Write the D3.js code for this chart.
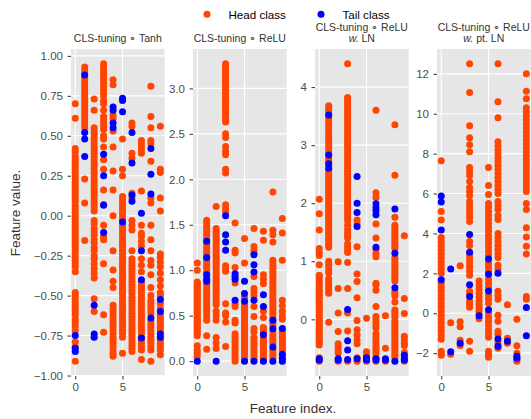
<!DOCTYPE html>
<html><head><meta charset="utf-8">
<script src="https://cdn.jsdelivr.net/npm/d3@7"></script>
<style>
html,body{margin:0;padding:0;background:#fff;}
svg{display:block;font-family:"Liberation Sans",Arial,Helvetica,sans-serif;}
</style></head>
<body>
<svg id="chart" width="531" height="419"></svg>
<script>
// ---------- data ----------
const featureIdx = [0,1,2,3,4,5,6,7,8,9];
const xTickVals = [0,5];
const classNames = ["Head class","Tail class"];
const panelTitles = [
  ["CLS-tuning ∘ Tanh"],
  ["CLS-tuning ∘ ReLU"],
  ["CLS-tuning ∘ ReLU", "w.| LN"],
  ["CLS-tuning ∘ ReLU", "w.| pt. LN"]
];
const yTicksTanh = [-1,-0.75,-0.5,-0.25,0,0.25,0.5,0.75,1];
const yTicksRelu = [0,0.5,1,1.5,2,2.5,3];
const yTicksReluLN = [0,1,2,3,4];
const yTicksReluPtLN = [-2,0,2,4,6,8,10,12];

// Panel 1: CLS-tuning ∘ Tanh (values per feature index)
const tanhHead = [
  [0.70,0.61,0.42,0.40,0.37,0.35,0.33,0.31,0.29,0.27,0.25,0.23,0.21,0.19,0.17,0.15,0.13,0.11,0.09,0.06,0.04,0.02,0.0,-0.02,-0.04,-0.06,-0.08,-0.10,-0.12,-0.14,-0.16,-0.18,-0.20,-0.22,-0.24,-0.26,-0.28,-0.30,-0.32,-0.35,-0.48,-0.50,-0.52,-0.54,-0.56,-0.58,-0.60,-0.62,-0.65,-0.67,-0.69,-0.72,-0.79,-0.82,-0.91],
  [0.93,0.91,0.89,0.87,0.85,0.83,0.81,0.79,0.77,0.75,0.73,0.71,0.69,0.67,0.65,0.63,0.61,0.59,0.57,0.55,0.23,0.08,-0.155],
  [0.73,0.66,0.55,0.53,0.51,0.49,0.47,0.45,0.43,0.41,0.39,0.37,0.35,0.33,0.31,0.29,0.27,0.25,0.23,0.21,0.19,0.17,0.15,0.13,0.11,0.09,0.07,0.05,0.03,-0.03,-0.05,-0.08,-0.10,-0.12,-0.15,-0.17,-0.20,-0.22,-0.25,-0.27,-0.30,-0.33,-0.36,-0.39,-0.52,-0.60],
  [0.95,0.93,0.91,0.89,0.87,0.85,0.83,0.81,0.79,0.77,0.75,0.72,0.70,0.66,0.62,0.60,0.58,0.56,0.54,0.50,0.48,0.43,0.35,0.29,0.16,0.07,-0.06,-0.13,-0.15,-0.30,-0.62,-0.73],
  [0.85,0.82,0.63,0.61,0.53,0.43,0.28,0.16,0.0,-0.22,-0.34,-0.41,-0.45,-0.56,-0.58,-0.60,-0.62,-0.64,-0.66,-0.68,-0.70,-0.72,-0.74,-0.76,-0.78,-0.80,-0.82,-0.84,-0.86,-0.88],
  [0.48,0.29,0.25,0.12,0.10,0.08,0.06,0.04,0.02,0.0,-0.02,-0.06,-0.08,-0.10,-0.12,-0.14,-0.16,-0.18,-0.20,-0.22,-0.24,-0.26,-0.28,-0.30,-0.32,-0.34,-0.36,-0.38,-0.40,-0.42,-0.44,-0.46,-0.48,-0.50,-0.52,-0.54,-0.56,-0.58,-0.60,-0.62,-0.64,-0.66,-0.68,-0.70,-0.72,-0.74,-0.76,-0.86],
  [0.58,0.56,0.39,0.36,0.14,0.11,-0.03,-0.06,-0.09,-0.22,-0.27,-0.29,-0.31,-0.33,-0.35,-0.37,-0.39,-0.41,-0.43,-0.45,-0.47,-0.49,-0.51,-0.53,-0.55,-0.57,-0.59,-0.61,-0.63,-0.65,-0.67,-0.69,-0.71,-0.73,-0.75,-0.77,-0.79,-0.81,-0.83,-0.85],
  [0.47,0.45,0.43,0.41,0.39,0.155,-0.06,-0.11,-0.13,-0.16,-0.19,-0.27,-0.31,-0.35,-0.42,-0.44,-0.46,-0.48,-0.50,-0.52,-0.54,-0.56,-0.58,-0.60,-0.62,-0.64,-0.66,-0.68,-0.70,-0.72,-0.74,-0.76,-0.78,-0.80,-0.82,-0.84,-0.90],
  [0.81,0.62,0.55,0.47,0.45,0.34,0.11,0.08,-0.06,-0.15,-0.22,-0.28,-0.31,-0.37,-0.45,-0.50,-0.53,-0.55,-0.57,-0.59,-0.61,-0.66,-0.68,-0.70,-0.72,-0.74,-0.76,-0.78,-0.80,-0.82,-0.84,-0.91],
  [0.56,0.29,0.27,0.11,0.03,-0.24,-0.26,-0.29,-0.32,-0.36,-0.40,-0.44,-0.48,-0.50,-0.55,-0.58,-0.62,-0.64,-0.66,-0.68,-0.70,-0.72,-0.78,-0.80,-0.82,-0.84,-0.87]
];
const tanhTail = [
  [-0.75,-0.83,-0.85],
  [0.88,0.52,0.48,0.37],
  [-0.56,-0.74,-0.76],
  [0.385,0.25,0.065,-0.105],
  [0.68,0.66,0.58,0.55],
  [0.735,0.72,0.65,-0.04],
  [0.52,0.33,0.13,0.09],
  [0.015,-0.22,-0.40,-0.765],
  [0.42,0.26,0.135,-0.64],
  [-0.525,-0.60,-0.74,-0.76]
];

// Panel 2: CLS-tuning ∘ ReLU
const reluHead = [
  [1.08,1.0,0.87,0.85,0.83,0.81,0.79,0.77,0.75,0.73,0.71,0.69,0.67,0.65,0.63,0.61,0.59,0.57,0.55,0.53,0.51,0.49,0.47,0.45,0.43,0.41,0.39,0.37,0.35,0.33,0.31,0.28,0.17,0.12,0.09,0.05],
  [1.55,1.52,1.49,1.46,1.43,1.40,1.37,1.34,1.30,1.27,1.24,1.21,1.18,1.15,1.12,1.09,1.06,1.03,1.00,0.97,0.93,0.86,0.83,0.80,0.77,0.74,0.71,0.68,0.65,0.62,0.59,0.56,0.52,0.49,0.45,0.28,0.13],
  [1.70,1.46,1.43,1.40,1.37,1.34,1.31,1.28,1.25,1.22,1.19,1.16,1.13,1.10,1.07,1.04,1.01,0.98,0.95,0.92,0.89,0.86,0.83,0.80,0.77,0.74,0.71,0.68,0.65,0.62,0.55,0.50,0.45,0.26,0.20,0.14],
  [3.27,3.25,3.23,3.21,3.19,3.17,3.15,3.13,3.11,3.09,3.07,3.05,3.03,3.01,2.99,2.97,2.95,2.93,2.91,2.89,2.87,2.85,2.83,2.81,2.79,2.77,2.75,2.73,2.71,2.68,2.65,2.63,2.50,2.46,2.36,2.31,2.27,2.11,2.07,1.72,1.68,1.64,1.05,1.02,0.99,0.63,0.53,0.50,0.43,0.16],
  [1.52,1.22,1.19,1.03,0.86,0.63,0.60,0.45,0.42,0.30,0.27,0.24,0.21,0.18,0.15,0.12,0.09,0.06,0.03,0.0],
  [1.35,1.08,0.70,0.62,0.59,0.56,0.53,0.50,0.47,0.44,0.41,0.38,0.35,0.32,0.29,0.26,0.23,0.20,0.17,0.14,0.11,0.08,0.05,0.02],
  [1.46,1.26,1.22,1.19,0.93,0.80,0.76,0.72,0.60,0.49,0.36,0.32,0.26,0.23,0.20,0.17,0.14,0.11,0.08,0.05,0.02],
  [1.43,1.33,0.95,0.90,0.85,0.55,0.48,0.37,0.34,0.31,0.25,0.22,0.19,0.16,0.13,0.10,0.07,0.04,0.01],
  [1.86,1.44,1.39,1.31,1.11,1.08,1.05,1.02,0.99,0.96,0.93,0.90,0.87,0.84,0.81,0.78,0.75,0.72,0.69,0.66,0.63,0.60,0.57,0.54,0.51,0.48,0.42,0.39,0.32,0.28,0.25,0.22,0.19,0.13,0.10,0.07,0.04],
  [1.57,1.41,1.11,0.67,0.61,0.55,0.50,0.46,0.33,0.30,0.27,0.24,0.21,0.18,0.15,0.12,0.05]
];
const reluTail = [
  [0.0],
  [1.32,1.14,0.95,0.90,0.88],
  [0.0],
  [1.60,1.39,1.31,1.22],
  [0.96,0.93,0.90,0.67],
  [0.88,0.745,0.66,0.0],
  [1.17,1.06,0.98,0.67,0.0],
  [0.73,0.60,0.29,0.0],
  [0.45,0.355,0.155,0.0],
  [0.36,0.077,0.03,0.0]
];

// Panel 3: CLS-tuning ∘ ReLU w. LN
const reluLNHead = [
  [2.07,1.82,1.54,1.22,1.15,1.10,0.94,0.76,0.72,0.67,0.62,0.57,0.52,0.48,0.44,0.40,0.36,0.32,0.28,0.24,0.20,0.16,0.12,0.08,0.04,0.0,-0.04,-0.08,-0.12,-0.16,-0.20,-0.24,-0.28,-0.32,-0.36,-0.40,-0.44,-0.66,-0.72],
  [3.68,3.64,3.60,3.56,3.50,3.46,3.40,3.35,3.30,3.25,3.20,3.15,3.10,3.05,3.00,2.95,2.90,2.85,2.78,2.74,2.70,2.64,2.56,2.52,2.48,2.44,2.40,2.36,2.32,2.28,2.24,2.20,2.16,2.12,2.08,2.04,2.00,1.96,1.92,1.88,1.84,1.80,1.76,1.72,1.68,1.64,1.60,1.56,1.52,1.48,1.44,1.40,1.36,1.32,1.28,1.24,1.0,0.95,0.90,0.85,0.80,0.70,0.65,0.60,0.55,0.50,0.45,-0.05],
  [0.99,0.53,0.11,-0.21,-0.42,-0.48,-0.54,-0.58,-0.72],
  [4.40,3.82,3.78,3.74,3.70,3.65,3.60,3.55,3.50,3.45,3.40,3.35,3.30,3.25,3.20,3.15,3.10,3.05,3.00,2.95,2.90,2.85,2.80,2.75,2.70,2.65,2.60,2.55,2.50,2.45,2.40,2.35,2.30,2.25,2.20,2.15,2.10,2.05,2.00,1.95,1.90,1.85,1.80,1.75,1.70,1.62,1.55,1.50,1.45,1.40,1.30,1.25,1.20,1.15,0.98,0.53,0.11,-0.20,-0.72],
  [1.71,1.64,1.25,0.78,0.65,0.37,-0.02,-0.18,-0.27,-0.35,-0.42,-0.66,-0.72],
  [0.02,-0.56,-0.62,-0.72],
  [3.60,2.18,2.10,1.64,1.40,1.20,1.13,1.08,0.62,0.59,0.50,0.22,0.05,0.0,-0.05,-0.10,-0.15,-0.25,-0.30,-0.35,-0.40,-0.45,-0.50,-0.55,-0.60,-0.66,-0.72],
  [0.06,-0.50,-0.72],
  [3.35,2.48,1.76,1.62,1.58,1.54,1.50,1.46,1.42,1.38,1.34,1.30,1.26,1.22,1.06,1.02,0.98,0.94,0.90,0.86,0.82,0.78,0.74,0.70,0.66,0.48,0.44,0.40,0.30,0.16,0.12,0.08,0.04,-0.02,-0.06,-0.10,-0.14,-0.18,-0.22,-0.26,-0.30,-0.34,-0.38,-0.42,-0.46,-0.50,-0.54,-0.58,-0.62,-0.66],
  [1.44,0.36,0.10,-0.29,-0.35,-0.41,-0.45,-0.57,-0.62,-0.72]
];
const reluLNTail = [
  [-0.68,-0.70],
  [3.52,2.83,2.68,2.60],
  [-0.68,-0.70],
  [0.17,-0.37,-0.53,-0.69],
  [2.46,2.0,1.84,1.60,-0.68],
  [-0.66,-0.68,-0.70],
  [1.99,1.92,1.87,1.80,1.24,-0.68,-0.70],
  [-0.68,-0.70],
  [1.90,1.14,0.545,-0.72],
  [-0.62,-0.68,-0.70]
];

// Panel 4: CLS-tuning ∘ ReLU w. pt. LN
const reluPtLNHead = [
  [7.65,5.1,4.67,3.8,3.6,3.4,3.2,3.0,2.8,2.6,2.4,2.2,2.0,1.5,1.3,1.1,0.9,0.7,0.5,0.3,0.1,-0.1,-0.3,-0.5,-0.7,-0.9,-1.1,-1.3,-1.9,-2.0,-2.1],
  [-0.47,-2.05],
  [2.38,-0.43,-0.68,-1.35,-1.62],
  [12.5,11.07,9.4,8.8,8.45,8.1,7.3,7.1,6.9,6.6,6.3,6.1,5.9,5.6,5.4,5.2,5.0,4.8,4.6,3.6,3.4,2.9,2.7,2.5,2.3,2.1,1.9,1.1,0.98,0.6,0.45,0.3,-1.4,-1.9],
  [1.62,1.40,1.20,1.0,0.8,0.6,0.45,0.3,0.15,0.0,-0.28],
  [7.3,6.4,5.95,5.5,5.3,5.1,4.9,4.7,4.5,4.3,4.1,3.9,3.7,3.5,3.3,3.1,2.9,2.5,2.3,2.1,1.7,1.5,1.3,0.9,0.7,0.5,0.0,-0.2,-0.4,-0.6,-0.8,-1.0,-1.2,-1.9,-2.05,-2.2],
  [12.5,10.6,9.8,8.6,8.4,8.2,8.0,7.8,7.6,7.4,7.2,7.0,6.8,6.6,6.4,6.2,6.0,5.6,5.4,5.2,4.9,4.7,4.0,3.8,3.6,3.4,3.2,3.0,2.8,2.4,2.2,1.1,0.9,0.7,-0.1,-0.4,-0.9,-1.05,-1.5,-1.75],
  [0.42,-1.25,-1.5],
  [-0.3,-1.63,-2.0,-2.3,-2.4],
  [12.0,11.13,10.75,10.3,10.1,9.9,9.7,9.5,9.3,9.1,8.9,8.7,8.5,8.3,8.1,7.9,7.7,7.5,7.3,7.1,6.9,6.7,6.5,6.3,6.1,5.5,5.2,4.28,3.82,3.36,2.97,0.84,0.7]
];
const reluPtLNTail = [
  [5.88,5.58,4.17,1.68],
  [2.22,-1.93],
  [-1.5],
  [3.95,3.06,1.43,0.84],
  [-0.13],
  [2.72,1.95,1.12,0.17],
  [2.0,-1.29,-1.65],
  [-1.4],
  [-2.15,-2.25],
  [0.29,-1.13]
];

const panelHead = [tanhHead, reluHead, reluLNHead, reluPtLNHead];
const panelTail = [tanhTail, reluTail, reluLNTail, reluPtLNTail];
const panelYTicks = [yTicksTanh, yTicksRelu, yTicksReluLN, yTicksReluPtLN];
const panelYFormat = [".2f", ".1f", "d", "d"];

// ---------- layout / style ----------
const left0 = 71, step = 122, pw = 93.6, pTop = 49, pBottom = 376;
const headColor = "#FF4500", tailColor = "#0000FF";
const bg = "#E6E6E6";
const r = 3.5;

const svg = d3.select("#chart");

function flatten(arr){
  const out = [];
  arr.forEach((vals, i) => vals.forEach(v => out.push({x: featureIdx[i], y: v})));
  return out;
}

panelHead.forEach((headArr, p) => {
  const head = flatten(headArr);
  const tail = flatten(panelTail[p]);
  const all = head.concat(tail);
  const ext = d3.extent(all, d => d.y);
  const pad = (ext[1]-ext[0])*0.05;
  const xl = left0 + p*step;
  const x = d3.scaleLinear().domain([-0.45, 9.45]).range([xl, xl+pw]);
  const y = d3.scaleLinear().domain([ext[0]-pad, ext[1]+pad]).range([pBottom, pTop]);

  const g = svg.append("g");
  g.append("rect").attr("x", xl).attr("y", pTop).attr("width", pw).attr("height", pBottom-pTop).attr("fill", bg);
  g.selectAll(".hg").data(panelYTicks[p]).join("line")
    .attr("x1", xl).attr("x2", xl+pw).attr("y1", d=>y(d)).attr("y2", d=>y(d))
    .attr("stroke", "#fff").attr("stroke-width", 1.1);
  g.selectAll(".vg").data(xTickVals).join("line")
    .attr("y1", pTop).attr("y2", pBottom).attr("x1", d=>x(d)).attr("x2", d=>x(d))
    .attr("stroke", "#fff").attr("stroke-width", 1.1);

  const clipId = "clip"+p;
  svg.append("clipPath").attr("id", clipId).append("rect")
    .attr("x", xl).attr("y", pTop).attr("width", pw).attr("height", pBottom-pTop);
  const pts = g.append("g").attr("clip-path", `url(#${clipId})`);
  pts.selectAll(".h").data(head).join("circle")
    .attr("cx", d=>x(d.x)).attr("cy", d=>y(d.y)).attr("r", r).attr("fill", headColor);
  pts.selectAll(".t").data(tail).join("circle")
    .attr("cx", d=>x(d.x)).attr("cy", d=>y(d.y)).attr("r", r).attr("fill", tailColor);

  const ya = g.append("g").attr("transform", `translate(${xl},0)`)
    .call(d3.axisLeft(y).tickValues(panelYTicks[p]).tickFormat(d3.format(panelYFormat[p])).tickSize(3.5).tickPadding(4.5));
  const xa = g.append("g").attr("transform", `translate(0,${pBottom})`)
    .call(d3.axisBottom(x).tickValues(xTickVals).tickFormat(d3.format("d")).tickSize(3.5).tickPadding(3.5));
  [ya, xa].forEach(a => {
    a.select(".domain").remove();
    a.selectAll(".tick line").attr("stroke", "#333").attr("stroke-width", 1);
    a.selectAll(".tick text").attr("fill", "#4D4D4D").attr("font-size", "11.5px")
      .attr("font-family", '"Liberation Sans",Arial,sans-serif');
  });

  const lines = panelTitles[p];
  const cx = xl + pw/2;
  lines.forEach((ln, i) => {
    const baseY = 42 - (lines.length-1-i)*11.5;
    const t = g.append("text").attr("x", cx).attr("y", baseY).attr("text-anchor", "middle")
      .attr("font-size", "10.5px").attr("fill", "#333");
    if (ln.includes("|")) {
      const [it, rest] = ln.split("|");
      t.append("tspan").attr("font-style", "italic").text(it);
      t.append("tspan").text(rest);
    } else {
      t.text(ln);
    }
  });
});

const legendX = [207, 321];
classNames.forEach((n, i) => {
  svg.append("circle").attr("cx", legendX[i]).attr("cy", 14.3).attr("r", r).attr("fill", i===0?headColor:tailColor);
  svg.append("text").attr("x", legendX[i]+21.5).attr("y", 18.5).attr("font-size", "11.6px").attr("fill", "#000").text(n);
});

svg.append("text").attr("x", 293).attr("y", 413).attr("text-anchor", "middle")
  .attr("font-size", "13.5px").attr("fill", "#333").text("Feature index.");
svg.append("text").attr("transform", "translate(20,213) rotate(-90)").attr("text-anchor", "middle")
  .attr("font-size", "13.5px").attr("fill", "#333").text("Feature value.");
</script>
</body></html>
